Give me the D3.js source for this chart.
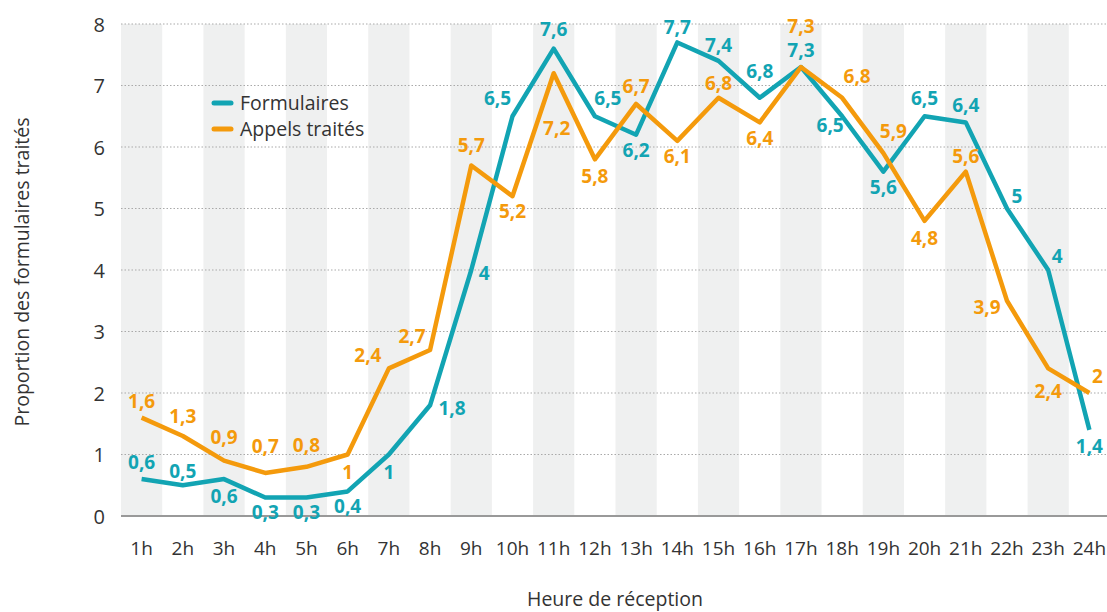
<!DOCTYPE html>
<html>
<head>
<meta charset="utf-8">
<script src="https://cdn.jsdelivr.net/npm/d3@7"></script>
<style>
  body { margin: 0; background: #fff; }
  text { font-family: "Open Sans", Lato, sans-serif; }
</style>
</head>
<body>
<div class="chartArea"></div>
<script>
let width = 1107,
    height = 612

// categories and values
const heures = ['1h','2h','3h','4h','5h','6h','7h','8h','9h','10h','11h','12h',
                '13h','14h','15h','16h','17h','18h','19h','20h','21h','22h','23h','24h']
const formulaires = [0.6,0.5,0.6,0.3,0.3,0.4,1,1.8,4,6.5,7.6,6.5,6.2,7.7,7.4,6.8,7.3,6.5,5.6,6.5,6.4,5,4,1.4]
const appels = [1.6,1.3,0.9,0.7,0.8,1,2.4,2.7,5.7,5.2,7.2,5.8,6.7,6.1,6.8,6.4,7.3,6.8,5.9,4.8,5.6,3.5,2.4,2]
// the source labels the 22h call point 3,9 although it is drawn lower
const appelsAffiches = [1.6,1.3,0.9,0.7,0.8,1,2.4,2.7,5.7,5.2,7.2,5.8,6.7,6.1,6.8,6.4,7.3,6.8,5.9,4.8,5.6,3.9,2.4,2]
const yTicks = [0,1,2,3,4,5,6,7,8]

// label nudges [dx, dy to baseline]
const nudgeForm = [[0,-10],[0,-7],[0,24],[0,21],[0,21],[0,22],[0,24],[22,10],[13,10],[-15,-11],[0,-13],[13,-11],
                   [0,22],[0,-8],[0,-9],[0,-20],[0,-10],[-12,16],[0,22],[0,-11],[0,-10],[10,-6],[9,-7],[0,23]]
const nudgeApp = [[0,-10],[0,-13],[0,-17],[0,-20],[0,-15],[0,24],[-21,-6],[-18,-7],[0,-13],[0,22],[3,62],[0,24],
                  [0,-11],[0,22],[0,-8],[0,23],[0,-34],[15,-15],[10,-15],[0,24],[0,-9],[-20,13],[0,30],[8,-10]]

const teal = '#12a4b3',
      orange = '#f49a0c'

const svg = d3.select('.chartArea')
    .append('svg')
    .attr('width', width)
    .attr('height', height)

const xScale = d3.scaleBand()
    .domain(heures)
    .range([121, 1110])
    .padding(0)

const yScale = d3.scaleLinear()
    .domain([0, 8])
    .range([516, 24])

const cx = d => xScale(d) + xScale.bandwidth() / 2

// grey bands on every other hour
svg.append('g')
  .selectAll('rect')
  .data(heures.filter((h, i) => i % 2 === 0))
  .enter()
  .append('rect')
    .attr('x', d => xScale(d))
    .attr('y', yScale(8))
    .attr('width', xScale.bandwidth())
    .attr('height', yScale(0) - yScale(8))
    .attr('fill', '#eff0f0')

// dotted gridlines
svg.append('g')
  .selectAll('line')
  .data(yTicks.filter(t => t > 0))
  .enter()
  .append('line')
    .attr('x1', 121)
    .attr('x2', width)
    .attr('y1', d => yScale(d))
    .attr('y2', d => yScale(d))
    .attr('stroke', '#a9a9a9')
    .attr('stroke-width', 1)
    .attr('stroke-dasharray', '1.5,2')

// y axis labels
const yAxis = d3.axisLeft(yScale).tickValues(yTicks).tickSize(0).tickPadding(0)
svg.append('g')
    .attr('transform', 'translate(105,0)')
    .call(yAxis)
    .call(g => g.select('.domain').remove())
    .selectAll('text')
      .attr('font-size', 20)
      .attr('font-family', '"Open Sans", sans-serif')
      .attr('fill', '#333')
      .attr('dy', '0.35em')

// x axis
const xAxis = d3.axisBottom(xScale).tickSize(0).tickPadding(0)
svg.append('g')
    .attr('transform', `translate(0,${yScale(0)})`)
    .call(xAxis)
    .call(g => g.select('.domain').remove())
    .selectAll('text')
      .attr('font-size', 19)
      .attr('font-family', '"Open Sans", sans-serif')
      .attr('fill', '#333')
      .attr('y', 39)
      .attr('dy', 0)

svg.append('line')
    .attr('x1', 121)
    .attr('x2', width)
    .attr('y1', yScale(0))
    .attr('y2', yScale(0))
    .attr('stroke', '#999')
    .attr('stroke-width', 2)

// axis titles
svg.append('text')
    .attr('x', 615)
    .attr('y', 606)
    .attr('text-anchor', 'middle')
    .attr('font-size', 19.5)
    .attr('fill', '#333')
    .text('Heure de réception')

svg.append('text')
    .attr('transform', 'translate(29,272) rotate(-90)')
    .attr('text-anchor', 'middle')
    .attr('font-size', 19.5)
    .attr('fill', '#333')
    .text('Proportion des formulaires traités')

// lines
const line = d3.line()
    .x((d, i) => cx(heures[i]))
    .y(d => yScale(d))

const series = [
  { values: formulaires, shown: formulaires, color: teal, nudge: nudgeForm },
  { values: appels, shown: appelsAffiches, color: orange, nudge: nudgeApp }
]

series.forEach(s => {
  svg.append('path')
      .datum(s.values)
      .attr('d', line)
      .attr('fill', 'none')
      .attr('stroke', s.color)
      .attr('stroke-width', 4.5)
      .attr('stroke-linejoin', 'round')
})

// value labels
const fmt = v => String(v).replace('.', ',')
series.forEach(s => {
  svg.append('g')
    .selectAll('text')
    .data(s.values)
    .enter()
    .append('text')
      .attr('x', (d, i) => cx(heures[i]) + s.nudge[i][0])
      .attr('y', (d, i) => yScale(d) + s.nudge[i][1])
      .attr('text-anchor', 'middle')
      .attr('font-size', 19)
      .attr('font-weight', 700)
      .attr('fill', s.color)
      .text((d, i) => fmt(s.shown[i]))
})

// legend
const legend = svg.append('g').attr('transform', 'translate(212,103)')
const legendItems = [['Formulaires', teal], ['Appels traités', orange]]
legendItems.forEach((item, i) => {
  legend.append('line')
      .attr('x1', 2).attr('x2', 19)
      .attr('y1', i * 26).attr('y2', i * 26)
      .attr('stroke', item[1])
      .attr('stroke-width', 5)
      .attr('stroke-linecap', 'round')
  legend.append('text')
      .attr('x', 28)
      .attr('y', i * 26 + 7)
      .attr('font-size', 19.5)
      .attr('fill', '#333')
      .text(item[0])
})
</script>
</body>
</html>
